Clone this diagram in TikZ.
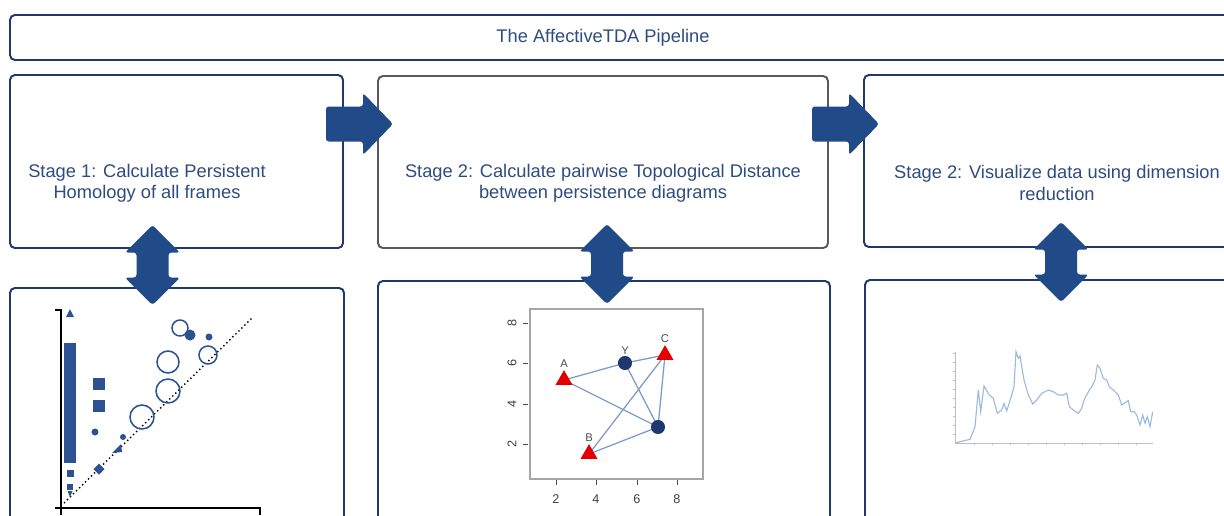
\documentclass[tikz,border=0pt]{standalone}
\usepackage{fontspec}
\setmainfont{Liberation Sans}
\usetikzlibrary{fit,shapes.geometric,backgrounds}

\definecolor{navy}{RGB}{31,56,112}
\definecolor{arrowblue}{RGB}{33,74,136}
\definecolor{txtblue}{RGB}{46,76,128}
\definecolor{ptblue}{RGB}{44,82,148}
\definecolor{edgeblue}{RGB}{125,155,200}
\definecolor{lineblue}{RGB}{155,186,224}
\definecolor{plotred}{RGB}{228,0,0}

\tikzset{
  box/.style={draw=navy, line width=1.4pt, rounded corners=3.5pt, inner sep=0pt},
  stagetext/.style={text=txtblue, font=\fontsize{13}{15}\selectfont, align=center},
  tri/.style={regular polygon, regular polygon sides=3, fill=plotred, inner sep=0pt, minimum size=14pt},
  dot/.style={circle, fill=navy, inner sep=0pt, minimum size=10pt},
  lbl/.style={text=black!70, font=\fontsize{8}{9}\selectfont, inner sep=1pt},
  ticklbl/.style={text=black!75, font=\fontsize{9}{10}\selectfont, inner sep=0pt},
  rarrow/.pic={\fill[arrowblue, rounded corners=2pt] (-33.5,-17.5) -- (3.5,-17.5) -- (3.5,-31) -- (33.5,0) -- (3.5,31) -- (3.5,17.5) -- (-33.5,17.5) -- cycle;},
  udarrow/.pic={\fill[arrowblue, rounded corners=2pt] (0,-40) -- (27.5,-12.5) -- (16,-12.5) -- (16,12.5) -- (27.5,12.5) -- (0,40) -- (-27.5,12.5) -- (-16,12.5) -- (-16,-12.5) -- (-27.5,-12.5) -- cycle;}
}

\begin{document}
\begin{tikzpicture}[x=0.025cm, y=-0.025cm]
\useasboundingbox (0,0) rectangle (1224,515);
\clip (0,0) rectangle (1224,515);

\node[box, fit={(10,15) (1240,60)}] (head) {};
\node[stagetext] (headtxt) at (603,38) {The AffectiveTDA Pipeline};

\node[box, fit={(10,75) (343,248)}] (s1) {};
\node[box, draw=black!65, fit={(378,76) (828,248)}] (s2) {};
\node[box, fit={(864,75) (1250,247)}] (s3) {};
\node[stagetext] (t1) at (147,183) {Stage 1: Calculate Persistent\\Homology of all frames};
\node[stagetext] (t2) at (603,183) {Stage 2: Calculate pairwise Topological Distance\\between persistence diagrams};
\node[stagetext] (t3) at (1057,183) {Stage 2: Visualize data using dimension\\reduction};

\node[box, fit={(10,288) (344,540)}] (p1) {};
\node[box, fit={(378,281) (830,540)}] (p2) {};
\node[box, fit={(865,280) (1250,540)}] (p3) {};

\pic at (359.5,124) {rarrow};
\pic at (845.5,124) {rarrow};
\pic at (152.5,265) {udarrow};
\pic at (607,264) {udarrow};
\pic at (1061,262) {udarrow};

\draw[line width=1pt] (55,310) -- (61,310) -- (61,515);
\draw[line width=1pt] (55,508) -- (260,508) -- (260,515);
\draw[dotted, line width=1pt] (64,503) -- (252,318);
\fill[ptblue] (66,317) -- (74,317) -- (70,309) -- cycle;
\foreach \y in {343,355,...,451}
  \fill[ptblue] (64,\y) rectangle ++(12,11.8);
\fill[ptblue] (66.5,469.5) rectangle ++(7,7);
\fill[ptblue] (67,484) rectangle ++(6,6);
\fill[ptblue] (67.5,491) -- (72.5,491) -- (70,497) -- cycle;
\fill[ptblue] (93,378) rectangle ++(12,12);
\fill[ptblue] (93,400) rectangle ++(12,12);
\fill[ptblue] (95,432) circle (3.5);
\fill[ptblue] (123,437) circle (3);
\fill[ptblue] (112,453) -- (121,444) -- (122,452) -- cycle;
\fill[ptblue] (99,463.5) -- (104.5,469) -- (99,474.5) -- (93.5,469) -- cycle;
\fill[ptblue] (190,335) circle (5.5);
\fill[ptblue] (209,337) circle (3.5);
\draw[ptblue, line width=1.1pt] (142,417) circle (12);
\draw[ptblue, line width=1.1pt] (168,391) circle (12);
\draw[ptblue, line width=1.1pt] (168,362) circle (11);
\draw[ptblue, line width=1.1pt] (180,328) circle (8);
\draw[ptblue, line width=1.1pt] (208,355) circle (9);

\draw[black!35, line width=0.8pt] (530,309) rectangle (703,479);
\foreach \v/\y in {2/444,4/404,6/363,8/323} {
  \draw[black!70, line width=0.6pt] (523,\y) -- (528,\y);
  \node[ticklbl, rotate=90] (yl\v) at (512,\y) {\v};
}
\foreach \v/\x in {2/556,4/596,6/637,8/677} {
  \draw[black!70, line width=0.6pt] (\x,480) -- (\x,485);
  \node[ticklbl] (xl\v) at (\x,499) {\v};
}
\node[tri, label={[lbl]above:A}] (A) at (564,380) {};
\node[tri, label={[lbl]above:B}] (B) at (589,454) {};
\node[tri, label={[lbl]above:C}] (C) at (665,355) {};
\node[dot, label={[lbl]above:Y}] (Y) at (625,363) {};
\node[dot] (D) at (658,427) {};
\begin{scope}[on background layer]
\draw[edgeblue, line width=0.9pt] (A.center) -- (Y.center) -- (C.center) -- (D.center) -- (B.center) -- (C.center);
\draw[edgeblue, line width=0.9pt] (A.center) -- (D.center) -- (Y.center);
\end{scope}

\draw[black!25, line width=0.6pt] (955,352) -- (955,443) -- (1153,443);
\foreach \y in {353,362,...,434}
  \draw[black!25, line width=0.5pt] (953,\y) -- (955,\y);
\foreach \x in {974,992,...,1136}
  \draw[black!25, line width=0.5pt] (\x,443) -- (\x,445);
\draw[lineblue, line width=0.8pt] (956,442.7) -- (970,439.3) -- (975,426.7) -- (978.3,390) -- (980.7,411.7) -- (984,386) -- (989.3,395) -- (993.3,398.3) -- (997.3,413.3) -- (1001.7,410) -- (1004,403.3) -- (1006.7,411) -- (1011.7,395) -- (1014,386.7) -- (1016,351.7) -- (1018.3,358.3) -- (1020,356) -- (1024,380) -- (1028.3,395) -- (1032.7,404) -- (1036.7,400) -- (1041.7,393.3) -- (1048.3,390) -- (1053.3,391.7) -- (1058.3,395) -- (1063.3,395) -- (1066.7,393.3) -- (1069.3,406.7) -- (1073.3,410) -- (1078.3,413.3) -- (1081.7,408.3) -- (1084,400) -- (1086.7,395) -- (1089.3,390) -- (1091.7,386.7) -- (1095,380) -- (1097.3,365) -- (1100,368.3) -- (1103.3,378.3) -- (1106.7,380) -- (1109.3,386.7) -- (1113.3,390) -- (1118.3,395) -- (1121.7,405) -- (1125,402.7) -- (1128.3,400.7) -- (1130.7,411.7) -- (1134,411.7) -- (1136.7,415) -- (1140,425) -- (1142.7,415) -- (1145,423.3) -- (1147.3,416.7) -- (1150,426.7) -- (1152.7,411.7);
\end{tikzpicture}
\end{document}
